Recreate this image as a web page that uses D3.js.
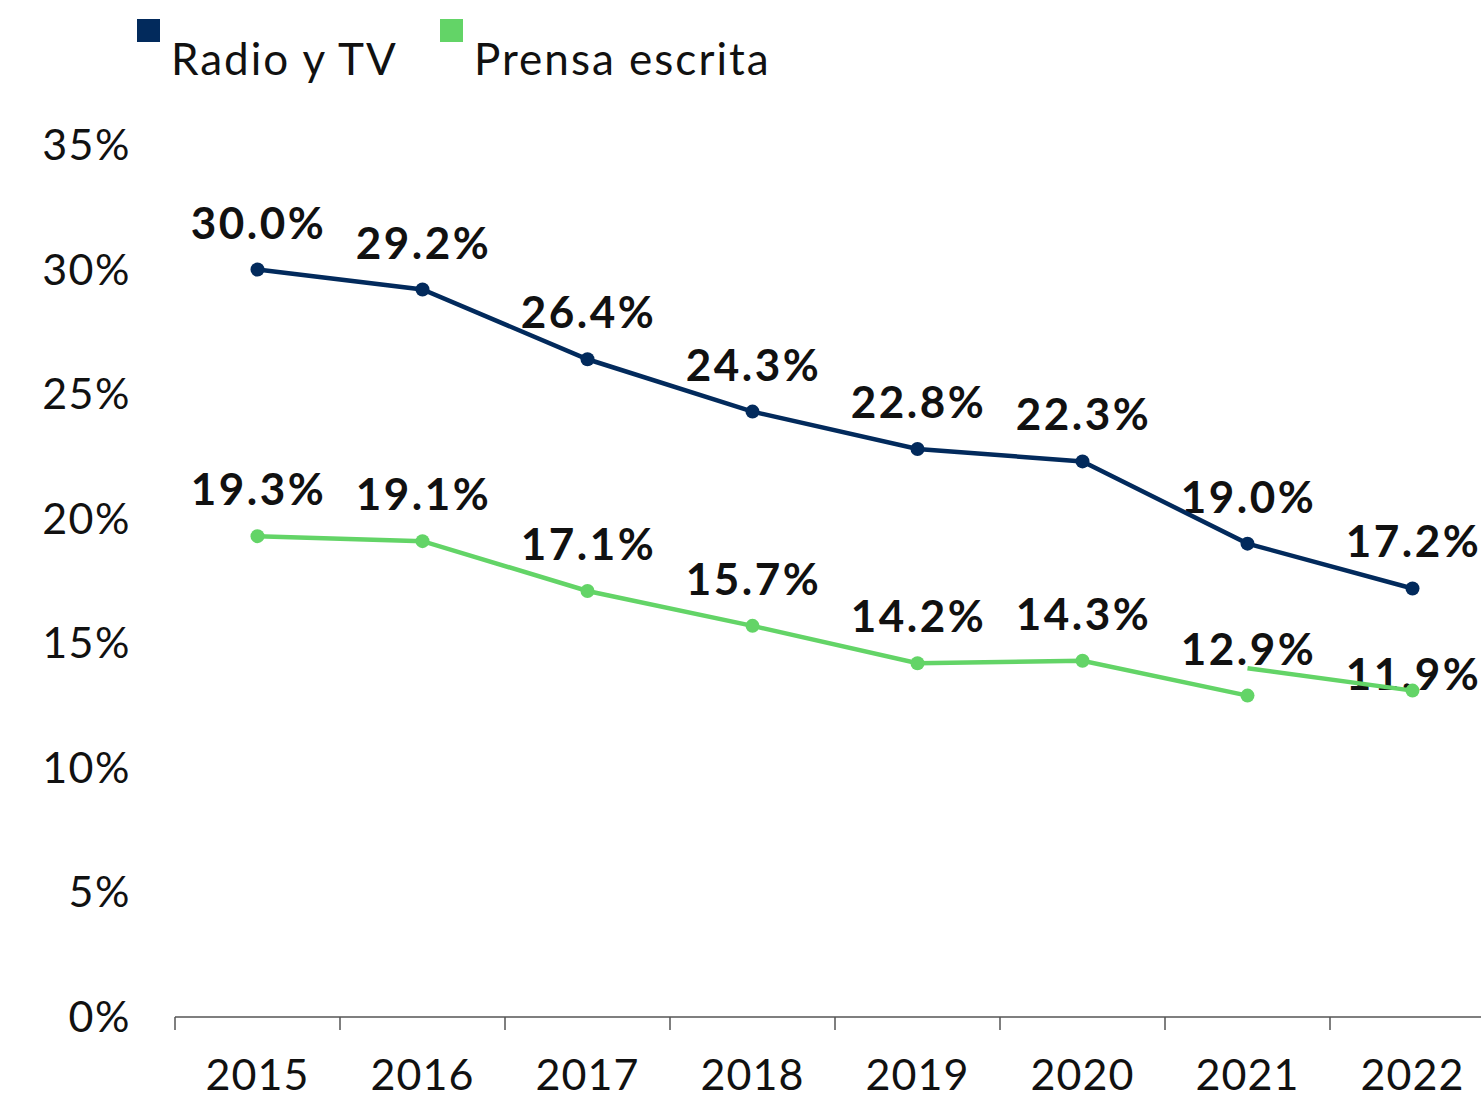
<!DOCTYPE html>
<html>
<head>
<meta charset="utf-8">
<script src="https://cdn.jsdelivr.net/npm/d3@7"></script>
<style>
  body { margin: 0; background: #fff; }
  text { font-family: Lato, "Open Sans", sans-serif; }
</style>
</head>
<body>
<div id="graph" style="width:1481px;height:1100px"></div>
<script>
var years     = ['2015', '2016', '2017', '2018', '2019', '2020', '2021', '2022']
var radioTv   = [30.0, 29.2, 26.4, 24.3, 22.8, 22.3, 19.0, 17.2]
var radioLbl  = ['30.0%', '29.2%', '26.4%', '24.3%', '22.8%', '22.3%', '19.0%', '17.2%']
var prensa    = [19.3, 19.1, 17.1, 15.7, 14.2, 14.3, 12.9, 11.9]
// the 2021-2022 piece of the green line is drawn apart (and higher) in the original
var prensaEnd = [null, null, null, null, null, null, 14.0, 13.1]
var prensaLbl = ['19.3%', '19.1%', '17.1%', '15.7%', '14.2%', '14.3%', '12.9%', '11.9%']
var yTicks    = [0, 5, 10, 15, 20, 25, 30, 35]
var seriesNames = ['Radio y TV', 'Prensa escrita']

var navy  = '#022a5c'
var green = '#63d467'

var width  = 1481, height = 1100
var margin = {top:145, left:175, bottom:83}

var svg = d3.select("#graph").append("svg")
            .attr("width", width).attr("height", height)

// bands of 165px, the last one runs past the right edge
var x = d3.scaleBand()
          .domain(years)
          .range([margin.left, margin.left + 165 * years.length])

var y = d3.scaleLinear()
          .domain([0, 35])
          .range([height - margin.bottom, margin.top])

// y labels, no axis line
svg.append("g").selectAll("text")
   .data(yTicks)
   .enter().append("text")
   .attr("x", 131)
   .attr("y", function(d){ return y(d) + 15 })
   .attr("text-anchor", "end")
   .attr("font-size", "43px")
   .attr("letter-spacing", "1.5px")
   .attr("fill", "#111")
   .text(function(d){ return d + '%' })

// x axis
var xAxis = svg.append("g")
               .attr("transform", "translate(0," + y(0) + ")")
xAxis.append("line")
     .attr("x1", margin.left).attr("x2", width)
     .attr("stroke", "#555").attr("stroke-width", 1.5)
xAxis.selectAll(".tk")
     .data(years)
     .enter().append("line")
     .attr("x1", function(d){ return x(d) }).attr("x2", function(d){ return x(d) })
     .attr("y1", 0).attr("y2", 13)
     .attr("stroke", "#555").attr("stroke-width", 1.5)
xAxis.selectAll("text")
     .data(years)
     .enter().append("text")
     .attr("x", function(d){ return x(d) + x.bandwidth()/2 })
     .attr("y", 73)
     .attr("text-anchor", "middle")
     .attr("font-size", "43px")
     .attr("letter-spacing", "1px")
     .attr("fill", "#111")
     .text(function(d){ return d })

var cx = function(i){ return x(years[i]) + x.bandwidth()/2 }

// data labels (under the lines, like the original)
var labelPos = function(vals, labels){
    svg.append("g").selectAll("text")
       .data(labels)
       .enter().append("text")
       .attr("x", function(d, i){ return cx(i) + 1 })
       .attr("y", function(d, i){ return y(vals[i]) - 31 })
       .attr("text-anchor", "middle")
       .attr("font-size", "44px")
       .attr("font-weight", "bold")
       .attr("letter-spacing", "2.5px")
       .attr("fill", "#111")
       .text(function(d){ return d })
}
labelPos(radioTv, radioLbl)
labelPos(prensa, prensaLbl)

var line = d3.line()
             .defined(function(d){ return d != null })
             .x(function(d, i){ return cx(i) })
             .y(function(d){ return y(d) })

var drawSeries = function(vals, color, withDots){
    svg.append("path")
       .attr("d", line(vals))
       .attr("fill", "none")
       .attr("stroke", color)
       .attr("stroke-width", 4.5)
    var dots = vals.map(function(v, i){ return {v: v, i: i} })
                   .filter(function(d){ return d.v != null && withDots(d.i) })
    svg.append("g").selectAll("circle")
       .data(dots)
       .enter().append("circle")
       .attr("cx", function(d){ return cx(d.i) })
       .attr("cy", function(d){ return y(d.v) })
       .attr("r", 7)
       .attr("fill", color)
}

drawSeries(radioTv, navy, function(i){ return true })
drawSeries(prensa.slice(0, 7), green, function(i){ return true })
drawSeries(prensaEnd, green, function(i){ return i == 7 })

// legend
var legend = svg.append("g")
var legX = [137, 440]
var legC = [navy, green]
seriesNames.forEach(function(n, i){
    legend.append("rect")
          .attr("x", legX[i]).attr("y", 19)
          .attr("width", 23).attr("height", 23)
          .attr("fill", legC[i])
    legend.append("text")
          .attr("x", legX[i] + 34).attr("y", 75)
          .attr("font-size", "44px")
          .attr("letter-spacing", "2px")
          .attr("fill", "#111")
          .text(n)
})
</script>
</body>
</html>
